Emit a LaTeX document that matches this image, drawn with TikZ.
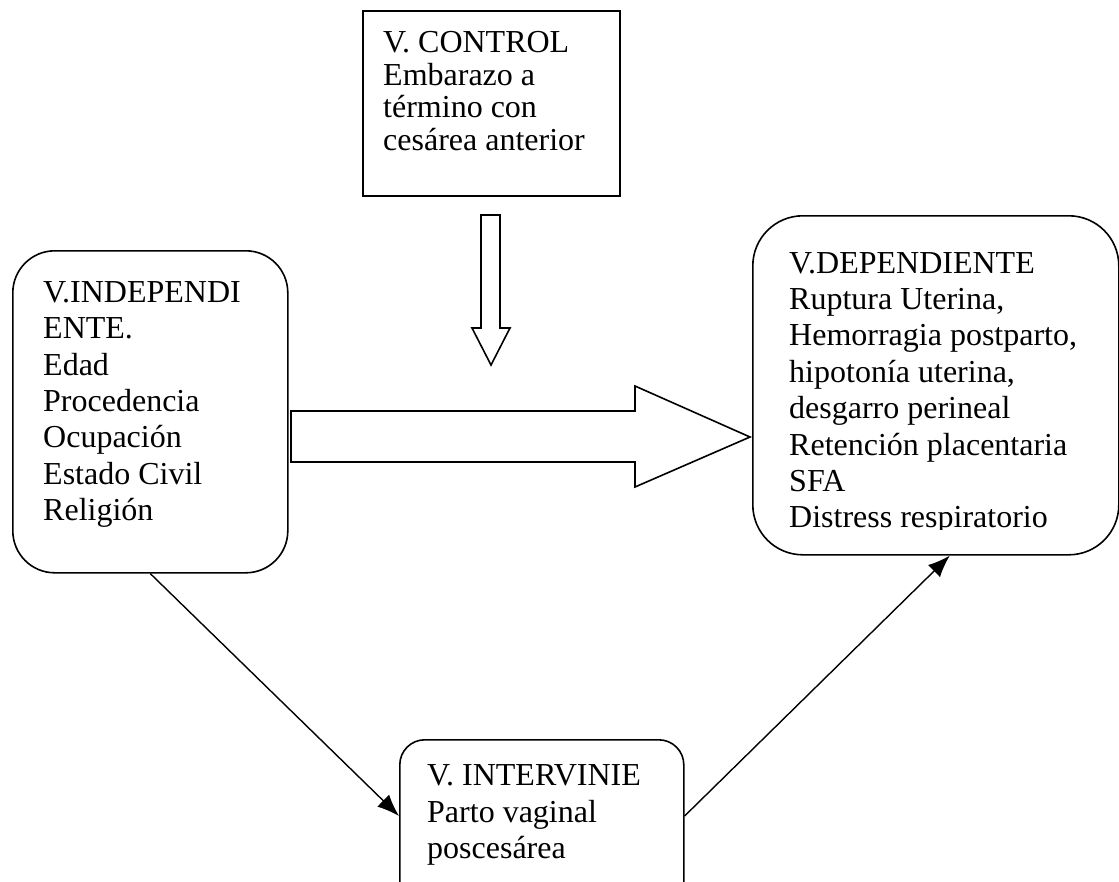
\documentclass[tikz,border=0pt]{standalone}
\usepackage{fontspec}
\setmainfont{Liberation Serif}
\usetikzlibrary{arrows.meta}
\begin{document}
\begin{tikzpicture}[x=1pt,y=-1pt,
  box/.style={draw,line width=1.6pt,inner sep=0pt,anchor=north west,rectangle},
  txt/.style={anchor=base west,inner sep=0pt,font=\fontsize{32}{36}\selectfont},
  ctxt/.style={anchor=base west,inner sep=0pt,font=\fontsize{32}{33}\selectfont},
  conn/.style={line width=1.4pt,-{Latex[length=22pt,width=17pt]}},
  blockarrow/.style={draw,line width=1.6pt,fill=white,line join=miter}]
\useasboundingbox (0,0) rectangle (1119,881);
\clip (0,0) rectangle (1119,881);
% boxes
\node[box,minimum width=257pt,minimum height=185pt] (ctrl) at (362,10) {};
\node[box,rounded corners=42pt,minimum width=275pt,minimum height=322pt] (ind) at (12,250) {};
\node[box,rounded corners=50pt,minimum width=366pt,minimum height=339pt] (dep) at (752,215) {};
\node[box,rounded corners=25pt,minimum width=284pt,minimum height=200pt] (inter) at (399,739) {};
% control text
\node[ctxt] (c1) at (383,52.5) {V. CONTROL};
\node[ctxt] (c2) at (383,85) {Embarazo a};
\node[ctxt] (c3) at (383,117.5) {término con};
\node[ctxt] (c4) at (383,150) {cesárea anterior};
% independent text
\node[txt] (i1) at (43,302) {V.INDEPENDI};
\node[txt] (i2) at (43,338) {ENTE.};
\node[txt] (i3) at (43,375) {Edad};
\node[txt] (i4) at (43,411) {Procedencia};
\node[txt] (i5) at (43,447) {Ocupación};
\node[txt] (i6) at (43,484) {Estado Civil};
\node[txt] (i7) at (43,520) {Religión};
% dependent text
\node[txt] (d1) at (789,273) {V.DEPENDIENTE};
\node[txt] (d2) at (789,309.4) {Ruptura Uterina,};
\node[txt] (d3) at (789,345.8) {Hemorragia postparto,};
\node[txt] (d4) at (789,382.2) {hipotonía uterina,};
\node[txt] (d5) at (789,418.6) {desgarro perineal};
\node[txt] (d6) at (789,455) {Retención placentaria};
\node[txt] (d7) at (789,491.4) {SFA};
\begin{scope}
\clip (752,215) rectangle (1118,529.5);
\node[txt] (d8) at (789,527.8) {Distress respiratorio};
\end{scope}
% intervening text
\node[txt] (n1) at (427,785) {V. INTERVINIE};
\node[txt] (n2) at (427,822) {Parto vaginal};
\node[txt] (n3) at (427,858) {poscesárea};
% block arrows
\draw[blockarrow] (481,215) -- (500,215) -- (500,328) -- (510,328) -- (491,365) -- (472,328) -- (481,328) -- cycle;
\draw[blockarrow] (291,411) -- (635,411) -- (635,386) -- (750,437) -- (635,487) -- (635,462) -- (291,462) -- cycle;
% connectors
\draw[conn] (ind.south) -- ([yshift=-77pt]inter.north west);
\draw[conn] ([yshift=-77pt]inter.north east) -- ([xshift=14pt]dep.south);
\end{tikzpicture}
\end{document}
